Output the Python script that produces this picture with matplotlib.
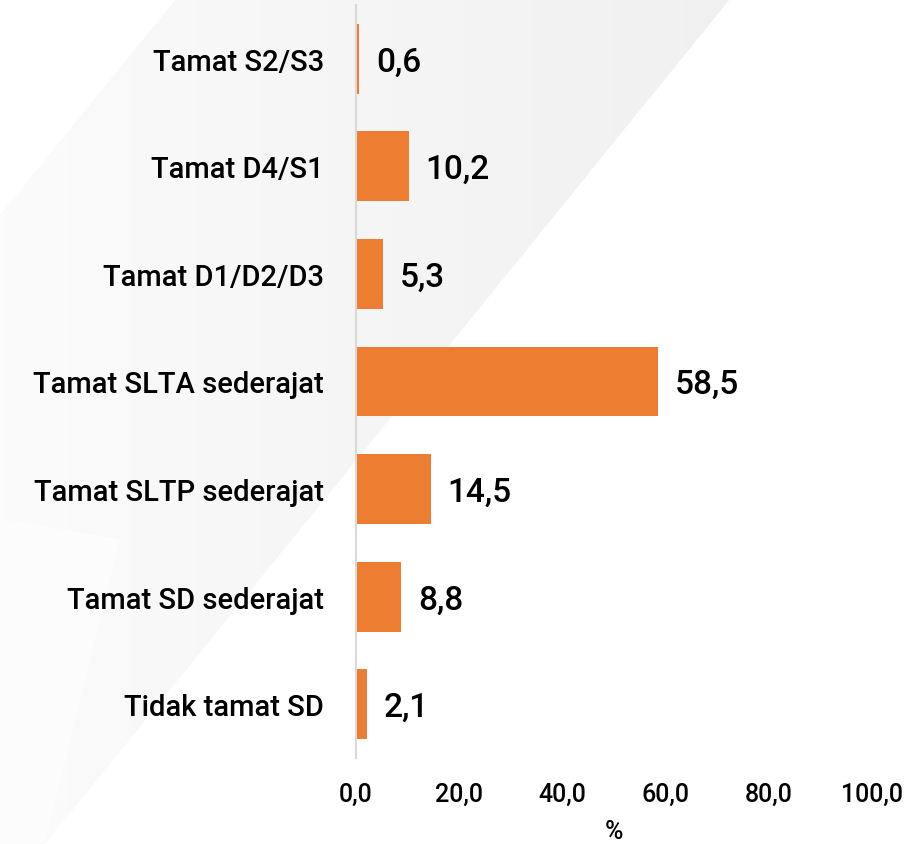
import matplotlib
matplotlib.use('Agg')
import numpy as np
import matplotlib.pyplot as plt
from matplotlib.patches import Polygon

categories = ['Tidak tamat SD', 'Tamat SD sederajat', 'Tamat SLTP sederajat',
              'Tamat SLTA sederajat', 'Tamat D1/D2/D3', 'Tamat D4/S1', 'Tamat S2/S3']
values = [2.1, 8.8, 14.5, 58.5, 5.3, 10.2, 0.6]
xticks = [0, 20, 40, 60, 80, 100]

plt.rcParams['font.family'] = ['Roboto', 'DejaVu Sans']
plt.rcParams['font.weight'] = 500

W, H = 915, 845
fig = plt.figure(figsize=(W / 100, H / 100), dpi=100)
fig.patch.set_facecolor('white')

# faint diagonal gray band behind the chart (pixel coords, y from top)
bg = fig.add_axes([0, 0, 1, 1], zorder=0)
bg.set_xlim(0, W)
bg.set_ylim(H, 0)
bg.axis('off')
grad = np.linspace(0, 1, 256)[None, :]
cm = matplotlib.colors.LinearSegmentedColormap.from_list('g', ['#fbfbfb', '#f4f4f5', '#eeeeef'])
im = bg.imshow(grad, extent=[0, W, H, 0], cmap=cm, aspect='auto', zorder=0)
band = Polygon([(176, 0), (730, 0), (45, H), (0, H), (0, 216)], closed=True,
               facecolor='none', edgecolor='none')
bg.add_patch(band)
im.set_clip_path(band)
low = Polygon([(0, 520), (120, 540), (45, H), (0, H)], closed=True,
              facecolor='#fcfcfc', edgecolor='none', zorder=1)
bg.add_patch(low)

ax = fig.add_axes([356 / W, 1 - 759 / H, 516 / W, 753 / H], zorder=1)
ax.patch.set_alpha(0)
y = np.arange(len(categories))
ax.barh(y, values, height=0.65, color='#ED7D31')
for yi, v in zip(y, values):
    ax.annotate(f'{v:.1f}'.replace('.', ','), (v, yi), xytext=(12, -2),
                textcoords='offset points', va='center', ha='left',
                fontsize=24, fontweight=500, color='black')

ax.set_xlim(0, 100)
ax.set_ylim(-0.5, len(categories) - 0.5)
ax.set_yticks(y)
ax.set_yticklabels(categories, fontsize=21, fontweight=500)
ax.set_xticks(xticks)
ax.set_xticklabels([f'{t:.1f}'.replace('.', ',') for t in xticks], fontsize=18, fontweight=500)
ax.tick_params(axis='both', length=0)
ax.tick_params(axis='y', pad=23)
ax.tick_params(axis='x', pad=17)
ax.set_xlabel('%', fontsize=18, fontweight=500, labelpad=10)
for s in ['top', 'right', 'bottom']:
    ax.spines[s].set_visible(False)
ax.spines['left'].set_color('#d9d9d9')
ax.spines['left'].set_linewidth(1.5)

fig.savefig('out.png', dpi=100)
